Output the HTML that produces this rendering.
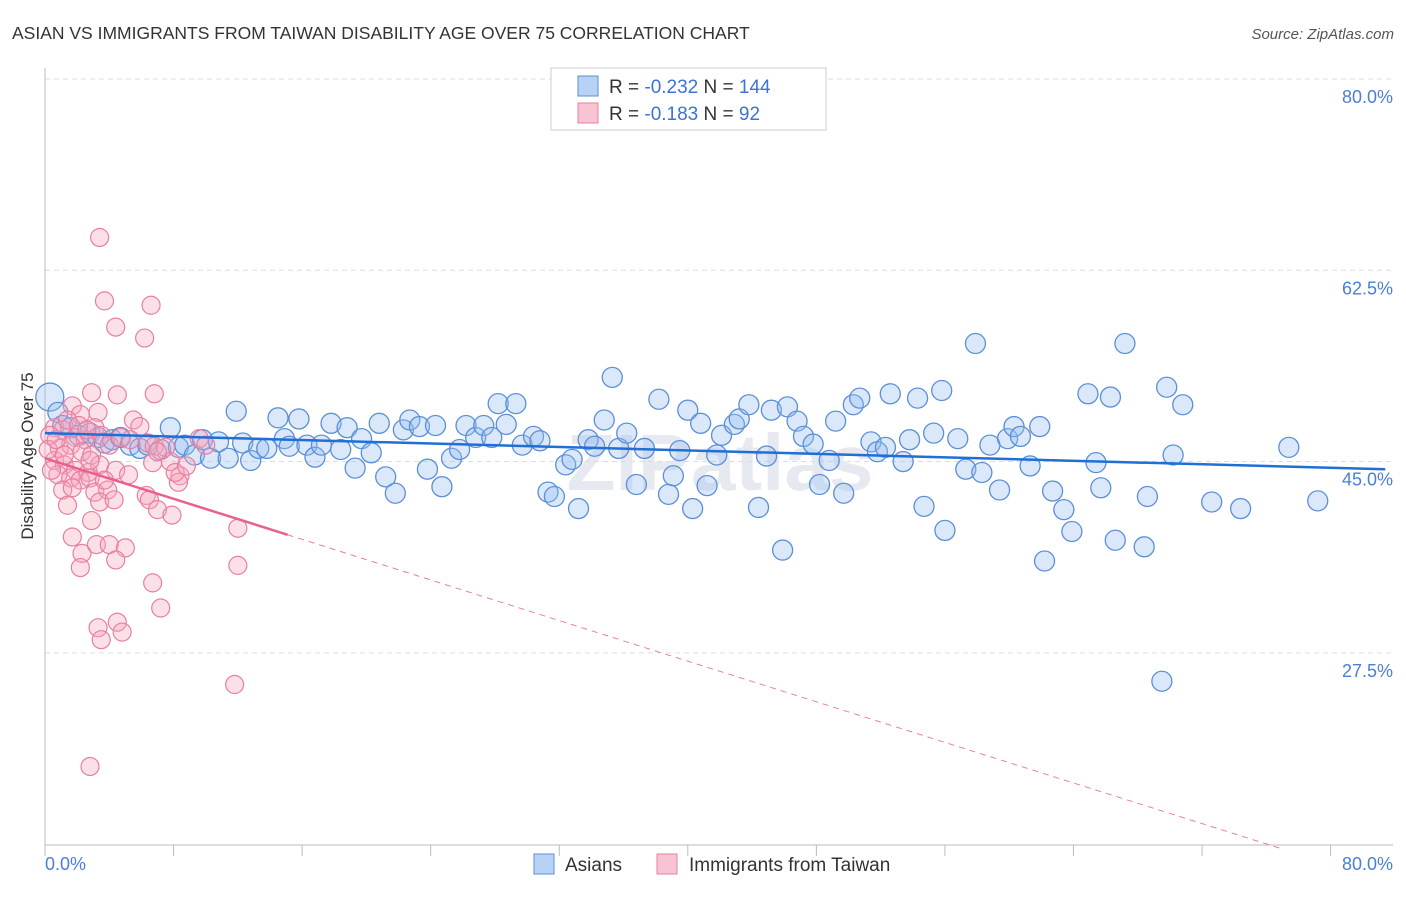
<!DOCTYPE html>
<html><head><meta charset="utf-8"><style>
body{margin:0;background:#fff;font-family:"Liberation Sans",sans-serif;}
svg text{font-family:"Liberation Sans",sans-serif;}
</style></head><body>
<svg id="chart" width="1406" height="892" viewBox="0 0 1406 892" xmlns="http://www.w3.org/2000/svg">
<text x="12" y="39" font-size="17.5" fill="#333">ASIAN VS IMMIGRANTS FROM TAIWAN DISABILITY AGE OVER 75 CORRELATION CHART</text>
<text x="1394" y="39" font-size="15" fill="#555" font-style="italic" text-anchor="end">Source: ZipAtlas.com</text>
<text x="720" y="490" font-size="80" fill="#e6eaf0" text-anchor="middle" font-weight="bold">ZIPatlas</text>
<g id="grid"></g>
<g id="axes"></g>
<g id="pts"></g>
<g id="trends"></g>
<text transform="translate(33,456) rotate(-90)" font-size="17" fill="#333" text-anchor="middle">Disability Age Over 75</text>
<g>
<rect x="551" y="68" width="275" height="62" fill="#fff" stroke="#ccc"/>
<rect x="578" y="76" width="20" height="20" fill="#b8d2f5" stroke="#5b8fd8"/>
<rect x="578" y="103" width="20" height="20" fill="#f8c4d4" stroke="#e87fa0"/>
<text x="609" y="93" font-size="19" fill="#333">R = <tspan fill="#3b73d9">-0.232</tspan>   N = <tspan fill="#3b73d9">144</tspan></text>
<text x="609" y="120" font-size="19" fill="#333">R = <tspan fill="#3b73d9"> -0.183</tspan>   N = <tspan fill="#3b73d9">  92</tspan></text>
</g>
<g>
<rect x="534" y="854" width="20" height="20" fill="#b8d2f5" stroke="#5b8fd8"/>
<text x="565" y="871" font-size="19" fill="#333">Asians</text>
<rect x="657" y="854" width="20" height="20" fill="#f8c4d4" stroke="#e87fa0"/>
<text x="689" y="871" font-size="19" fill="#333">Immigrants from Taiwan</text>
</g>
</svg>
<script>
const yTicks=[80,62.5,45,27.5];
const yTickLabels=["80.0%","62.5%","45.0%","27.5%"];
const xTicks=[0,8,16,24,32,40,48,56,64,72,80];
const blueX=[0.3,0.8,1.1,1.6,2.1,2.8,3.3,3.7,4.2,4.7,5.3,5.9,6.4,7.2,7.8,8.3,8.7,9.3,9.8,10.3,10.8,11.4,11.9,12.3,12.8,13.3,13.8,14.5,14.9,15.2,15.8,16.3,16.8,17.2,17.8,18.4,18.8,19.3,19.7,20.3,20.8,21.2,21.8,22.3,22.7,23.3,23.8,24.3,24.7,25.3,25.8,26.2,26.8,27.3,27.8,28.2,28.7,29.3,29.7,30.4,30.8,31.3,31.7,32.4,32.8,33.2,33.8,34.2,34.8,35.3,35.7,36.2,36.8,37.3,38.2,38.8,39.1,39.5,40.0,40.3,40.8,41.2,41.8,42.1,42.9,43.2,43.8,44.4,44.9,45.2,45.9,46.2,46.8,47.2,47.8,48.2,48.8,49.2,49.7,50.3,50.7,51.4,51.8,52.3,52.6,53.4,53.8,54.3,54.7,55.3,55.8,56.0,56.8,57.3,57.9,58.3,58.8,59.4,59.9,60.3,60.7,61.3,61.9,62.2,62.7,63.4,63.9,64.9,65.4,65.7,66.3,66.6,67.2,68.4,68.6,69.8,70.2,69.5,70.8,72.6,74.4,77.4,79.2];
const blueY=[50.9,49.5,48.3,48.1,47.4,47.6,47.2,46.7,47.0,47.2,46.5,46.2,46.5,46.1,48.1,46.3,46.5,45.6,47.0,45.3,46.8,45.3,49.6,46.7,45.1,46.2,46.2,49.0,47.1,46.4,48.9,46.5,45.4,46.5,48.5,46.1,48.1,44.4,47.1,45.8,48.5,43.6,42.1,47.9,48.8,48.2,44.3,48.3,42.7,45.3,46.1,48.3,47.2,48.3,47.2,50.3,48.4,50.3,46.5,47.3,46.9,42.2,41.8,44.7,45.2,40.7,47.0,46.4,48.8,52.7,46.2,47.6,42.9,46.2,50.7,42.0,43.7,46.0,49.7,40.7,48.5,42.8,45.6,47.4,48.4,48.9,50.2,40.8,45.5,49.7,36.9,50.0,48.7,47.3,46.6,42.9,45.1,48.7,42.1,50.2,50.8,46.8,45.9,46.3,51.2,45.0,47.0,50.8,40.9,47.6,51.5,38.7,47.1,44.3,55.8,44.0,46.5,42.4,47.1,48.2,47.3,44.6,48.2,35.9,42.3,40.6,38.6,51.2,44.9,42.6,50.9,37.8,55.8,37.2,41.8,51.8,45.6,24.9,50.2,41.3,40.7,46.3,41.4];
const pinkX=[3.4,3.7,6.6,4.4,6.2,2.9,4.5,6.8,1.7,3.3,2.2,5.5,0.6,1.1,1.9,2.5,3.1,3.5,4.0,5.9,6.4,6.8,7.5,9.6,10.0,0.9,1.6,2.3,2.9,0.6,1.2,1.9,2.7,3.4,4.4,5.2,6.7,7.8,8.4,0.8,1.6,2.2,2.8,1.1,1.7,3.1,3.9,6.3,6.5,8.3,1.4,3.4,4.3,7.0,7.9,2.9,1.7,2.3,3.2,4.0,5.0,2.2,4.4,12.0,12.0,6.7,7.2,4.5,3.3,4.8,3.5,11.8,2.8,0.3,0.2,0.4,0.7,1.2,1.4,2.1,2.6,2.8,3.7,4.7,5.3,7.0,8.1,8.8];
const pinkY=[65.5,59.7,59.3,57.3,56.3,51.3,51.1,51.2,50.1,49.5,49.3,48.8,48.1,47.9,47.2,47.0,48.1,47.4,46.5,48.2,46.7,46.4,46.3,47.1,46.5,46.2,46.5,45.9,45.6,45.1,44.7,44.2,44.0,44.7,44.2,43.8,44.9,45.0,43.7,43.8,43.5,43.3,43.5,42.4,42.6,42.2,42.4,41.9,41.5,43.1,41.0,41.3,41.5,40.6,40.1,39.6,38.1,36.6,37.4,37.4,37.1,35.3,36.0,38.9,35.5,33.9,31.6,30.3,29.8,29.4,28.7,24.6,17.1,47.4,46.1,44.2,47.0,45.6,48.8,48.3,47.9,45.1,43.3,47.2,47.0,45.9,44.0,44.6];
const blueTrendX=[0,83.4], blueTrendY=[47.6,44.3];
const pinkTrendX=[0,15.1,76.9], pinkTrendY=[45.3,38.3,9.6];

const NS="http://www.w3.org/2000/svg";
const X0=45,XS=16.07,Y80=79,YS=10.93;
function sx(v){return X0+v*XS;}
function sy(v){return Y80+(80-v)*YS;}
function mk(tag,attrs,parent){const e=document.createElementNS(NS,tag);for(const k in attrs)e.setAttribute(k,attrs[k]);parent.appendChild(e);return e;}
const grid=document.getElementById('grid'),axes=document.getElementById('axes'),pts=document.getElementById('pts'),tr=document.getElementById('trends');
yTicks.forEach((t,i)=>{
  const l=mk('line',{x1:45,x2:1393,y1:sy(t),y2:sy(t),stroke:'#ddd','stroke-dasharray':'5,4'},grid);
  
  
  const tx=mk('text',{x:1393,y:sy(t)+24,'font-size':18,fill:'#4a7fd6','text-anchor':'end'},axes);
  tx.textContent=yTickLabels[i];
  
  
});
let a=mk('line',{x1:45,x2:45,y1:68,y2:845,stroke:'#bbb'},axes);


a=mk('line',{x1:45,x2:1393,y1:845,y2:845,stroke:'#bbb'},axes);


xTicks.forEach(t=>{
  const l=mk('line',{x1:sx(t),x2:sx(t),y1:845,y2:856,stroke:'#bbb'},axes);
  
  
});
let t1=mk('text',{x:45,y:870,'font-size':18,fill:'#4a7fd6'},axes);t1.textContent='0.0%';


let t2=mk('text',{x:1393,y:870,'font-size':18,fill:'#4a7fd6','text-anchor':'end'},axes);t2.textContent='80.0%';


blueX.forEach((x,i)=>{
  const c=mk('circle',{cx:sx(x),cy:sy(blueY[i]),r:i===0?14:10,fill:'rgba(150,190,240,0.35)',stroke:'#5b8fd8','stroke-width':1.3},pts);
  
  
});
pinkX.forEach((x,i)=>{
  const c=mk('circle',{cx:sx(x),cy:sy(pinkY[i]),r:9,fill:'rgba(245,165,190,0.35)',stroke:'#e87fa0','stroke-width':1.2},pts);
  
  
});
let bl=mk('line',{x1:sx(blueTrendX[0]),y1:sy(blueTrendY[0]),x2:sx(blueTrendX[1]),y2:sy(blueTrendY[1]),stroke:'#1f6fd6','stroke-width':2.5},tr);


let pl=mk('line',{x1:sx(pinkTrendX[0]),y1:sy(pinkTrendY[0]),x2:sx(pinkTrendX[1]),y2:sy(pinkTrendY[1]),stroke:'#e8608f','stroke-width':2.5},tr);


let pd=mk('line',{x1:sx(pinkTrendX[1]),y1:sy(pinkTrendY[1]),x2:sx(pinkTrendX[2]),y2:sy(pinkTrendY[2]),stroke:'#e8809f','stroke-width':1,'stroke-dasharray':'6,5'},tr);


</script>
</body></html>
